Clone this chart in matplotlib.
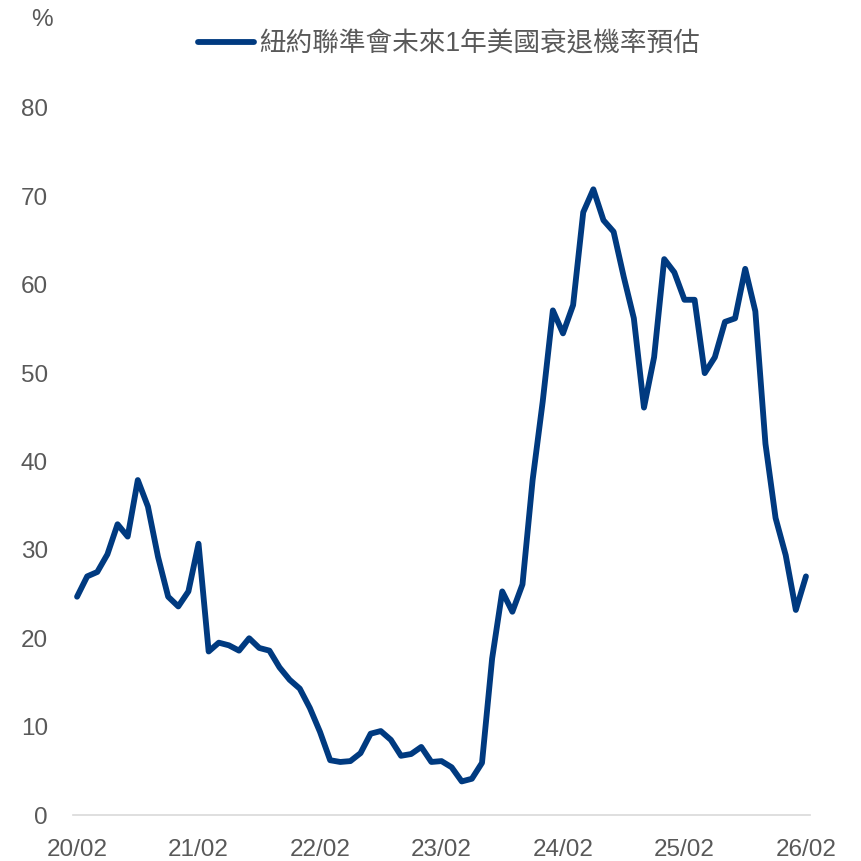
import matplotlib
matplotlib.use("Agg")
import matplotlib.pyplot as plt
import pandas as pd

plt.rcParams['font.family'] = ['Liberation Sans', 'Noto Sans CJK TC', 'DejaVu Sans']

# monthly NY Fed recession probability, 2020/02 .. 2026/02
months = pd.period_range("2020-02", "2026-02", freq="M")
prob = [24.7, 27.0, 27.5, 29.5, 32.9, 31.5, 37.9, 34.9, 29.2, 24.7,
        23.6, 25.3, 30.7, 18.5, 19.5, 19.2, 18.6, 20.0, 18.9, 18.6,
        16.7, 15.3, 14.3, 12.1, 9.4, 6.2, 6.0, 6.1, 7.0, 9.2,
        9.5, 8.5, 6.7, 6.9, 7.7, 6.0, 6.1, 5.4, 3.8, 4.1,
        5.9, 17.7, 25.3, 23.0, 26.1, 37.9, 46.8, 57.1, 54.5, 57.7,
        68.2, 70.8, 67.3, 66.0, 60.9, 56.2, 46.1, 51.8, 62.9, 61.4,
        58.3, 58.3, 50.0, 51.8, 55.8, 56.2, 61.8, 57.0, 42.0, 33.6,
        29.4, 23.2, 27.0]
series_name = "紐約聯準會未來1年美國衰退機率預估"
xtick_pos = [0, 12, 24, 36, 48, 60, 72]
xtick_lab = ["20/02", "21/02", "22/02", "23/02", "24/02", "25/02", "26/02"]
yticks = [0, 10, 20, 30, 40, 50, 60, 70, 80]

grey = "#595959"
navy = "#003A80"
W = 861

fig = plt.figure(figsize=(8.61, 8.61), dpi=100)
ax = fig.add_axes([73 / W, 46 / W, (810 - 73) / W, (815 - 108) / W])

x = list(range(len(months)))
ax.plot(x, prob, color=navy, lw=4.2, solid_joinstyle="round",
        solid_capstyle="round", label=series_name)

ax.set_xlim(-0.4, 72.4)
ax.set_ylim(0, 80)
ax.set_xticks(xtick_pos)
ax.set_xticklabels(xtick_lab)
ax.set_yticks(yticks)
ax.tick_params(axis="both", length=0, labelsize=17.5, colors=grey)
ax.tick_params(axis="x", pad=17)
ax.tick_params(axis="y", pad=18)

for s in ["top", "right", "left"]:
    ax.spines[s].set_visible(False)
ax.spines["bottom"].set_color("#D9D9D9")
ax.spines["bottom"].set_linewidth(1.2)

fig.text(42 / W, 1 - 20 / W, "%", ha="center", va="center",
         fontsize=17.5, color=grey)

leg = ax.legend(loc="center left", bbox_to_anchor=(198 / W, 1 - 44 / W),
                bbox_transform=fig.transFigure, frameon=False,
                borderpad=0, borderaxespad=0, handlelength=2.1,
                handletextpad=0.2, fontsize=19.2)
for t in leg.get_texts():
    t.set_color(grey)

fig.savefig("out.png", dpi=100)
